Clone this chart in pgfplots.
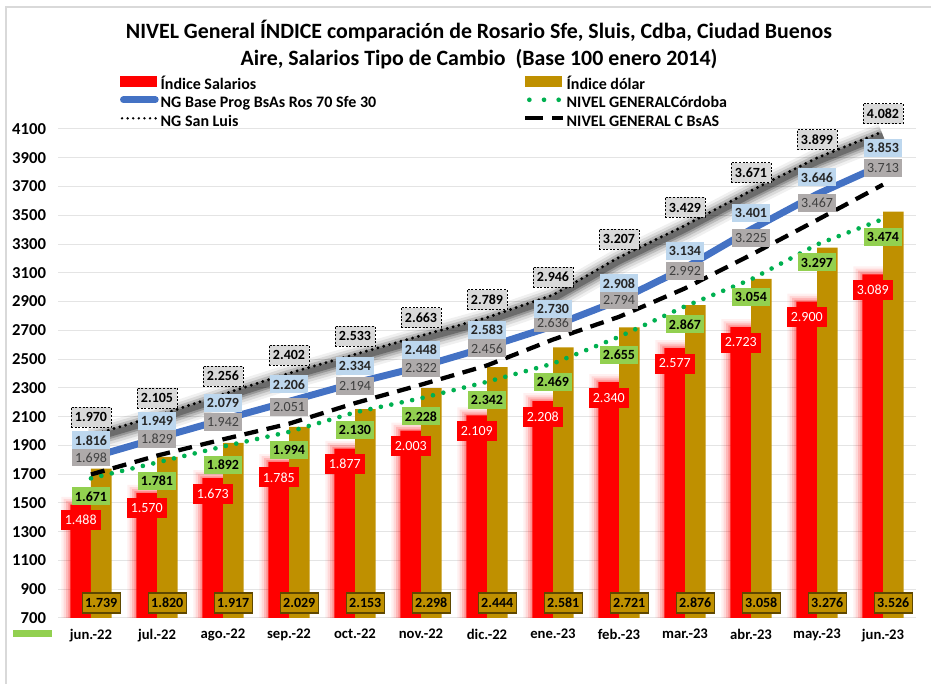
\documentclass[border=0pt]{standalone}
\usepackage{pgfplots}
\usepackage{pgfplotstable}
\pgfplotsset{compat=1.18}
\usepackage{fontspec}
\setmainfont{Carlito}
\definecolor{cred}{HTML}{FF0000}
\definecolor{cgold}{HTML}{BF9000}
\definecolor{cgolddk}{HTML}{5F4800}
\definecolor{cblue}{HTML}{4472C4}
\definecolor{cblueL}{HTML}{BDD7EE}
\definecolor{cgreen}{HTML}{00B050}
\definecolor{cgreenL}{HTML}{92D050}
\definecolor{cgrayL}{HTML}{D9D9D9}
\definecolor{cgrid}{HTML}{E4E4E4}
\definecolor{cgrayM}{HTML}{AEAAAA}
\definecolor{ctext}{HTML}{404040}

\pgfplotstableread{
x sal dol ng cor sl cb
0 1488 1739 1816 1671 1970 1698
1 1570 1820 1949 1781 2105 1829
2 1673 1917 2079 1892 2256 1942
3 1785 2029 2206 1994 2402 2051
4 1877 2153 2334 2130 2533 2194
5 2003 2298 2448 2228 2663 2322
6 2109 2444 2583 2342 2789 2456
7 2208 2581 2730 2469 2946 2636
8 2340 2721 2908 2655 3207 2794
9 2577 2876 3134 2867 3429 2992
10 2723 3058 3401 3054 3671 3225
11 2900 3276 3646 3297 3899 3467
12 3089 3526 3853 3474 4082 3713
}\data

\pgfplotsset{
  base/.style={
    scale only axis, width=643.5pt, height=366.75pt,
    xmin=-0.5, xmax=12.5, ymin=700, ymax=4100,
    at={(0pt,0pt)}, anchor=south west,
  },
}
\tikzset{
  lbl/.style={font=\fontsize{10.5}{11}\selectfont, inner sep=0pt, minimum width=28.5pt, minimum height=13.5pt},
}

\begin{document}
\begin{tikzpicture}
\useasboundingbox (-43.5pt,-49.5pt) rectangle (654.75pt,463.5pt);
\draw[cgrayL, line width=1pt] (-39pt,-60pt) -- (-39pt,458.25pt) -- (670pt,458.25pt);
\fill[cgreenL] (-33.75pt,-14.25pt) rectangle (-4.5pt,-9pt);

\begin{axis}[base,
  axis line style={draw=none},
  major tick length=0pt,
  ytick={700,900,...,4100},
  ymajorgrids, grid style={cgrid, line width=0.75pt},
  xtick={0,...,12},
  xticklabels={jun.-22,jul.-22,ago.-22,sep.-22,oct.-22,nov.-22,dic.-22,ene.-23,feb.-23,mar.-23,abr.-23,may.-23,jun.-23},
  yticklabel style={font=\bfseries\fontsize{12.5}{13}\selectfont, xshift=-5.5pt},
  xticklabel style={font=\bfseries\fontsize{11}{12}\selectfont, yshift=-5pt},
  /pgf/number format/1000 sep={},
  /pgf/number format/assume math mode=true,
]
% soft glow behind the red bars
\addplot[ybar, bar width=29pt, bar shift=-7.7pt, fill=cred, draw=none, opacity=0.06] table[x=x, y expr=\thisrow{sal}+55] {\data};
\addplot[ybar, bar width=25.5pt, bar shift=-7.7pt, fill=cred, draw=none, opacity=0.10] table[x=x, y expr=\thisrow{sal}+40] {\data};
\addplot[ybar, bar width=22pt, bar shift=-7.7pt, fill=cred, draw=none, opacity=0.15] table[x=x, y expr=\thisrow{sal}+26] {\data};
\addplot[ybar, bar width=18.5pt, bar shift=-7.7pt, fill=cred, draw=none, opacity=0.22] table[x=x, y expr=\thisrow{sal}+12] {\data};
\addplot[ybar, bar width=15.4pt, bar shift=-7.7pt, fill=cred, draw=none] table[x=x, y=sal] {\data};
\addplot[ybar, bar width=15.4pt, bar shift=7.7pt, fill=cgold, draw=none] table[x=x, y=dol] {\data};
\end{axis}

\begin{axis}[base, hide axis, clip=false,
  /pgf/number format/1000 sep={.},
  /pgf/number format/assume math mode=true,
  legend columns=2,
  legend cell align=left,
  legend style={at={(0.0723,1.1084)}, anchor=north west, draw=none, fill=none,
    inner sep=0pt, outer sep=0pt, column sep=0pt, row sep=0pt,
    font=\bfseries\fontsize{12}{14}\selectfont,
    nodes={inner xsep=1.5pt, inner ysep=0pt, text height=9.5pt, text depth=4.4pt}},
]
% lines
\addplot[cblue, line width=5.2pt, line cap=round, line join=round, forget plot] table[x=x,y=ng]{\data};
\addplot[cgreen, line width=3.5pt, line cap=round, dash pattern=on 0pt off 8pt, forget plot] table[x=x,y=cor]{\data};
\begin{scope}[yshift=-1.5pt]
\addplot[black, opacity=0.06, line width=19pt, line join=round, forget plot] table[x=x,y=sl]{\data};
\addplot[black, opacity=0.09, line width=15pt, line join=round, forget plot] table[x=x,y=sl]{\data};
\addplot[black, opacity=0.14, line width=11pt, line join=round, forget plot] table[x=x,y=sl]{\data};
\addplot[black, opacity=0.20, line width=7.5pt, line join=round, forget plot] table[x=x,y=sl]{\data};
\addplot[black, opacity=0.28, line width=4.5pt, line join=round, forget plot] table[x=x,y=sl]{\data};
\end{scope}
\addplot[black, line width=2.4pt, line cap=round, dash pattern=on 0pt off 4.5pt, forget plot] table[x=x,y=sl]{\data};
\addplot[black, line width=3.2pt, dash pattern=on 10.5pt off 6.5pt, forget plot] table[x=x,y=cb]{\data};

% labels
\addplot[draw=none, forget plot, nodes near coords, nodes near coords align=center,
  every node near coord/.append style={lbl, minimum width=30pt, minimum height=15pt, fill=cred, text=white, xshift=-7.7pt, yshift=-11.6pt}]
  table[x=x,y=sal]{\data};
\addplot[draw=none, forget plot, point meta=explicit, nodes near coords, nodes near coords align=center,
  every node near coord/.append style={lbl, minimum height=15pt, font=\bfseries\fontsize{10.5}{11}\selectfont, fill=cgold, draw=cgolddk, line width=0.9pt, text=black, xshift=7.7pt}]
  table[x=x, y expr=804, meta=dol]{\data};
\addplot[draw=none, forget plot, nodes near coords, nodes near coords align=center,
  every node near coord/.append style={lbl, font=\bfseries\fontsize{10.5}{11}\selectfont, fill=cgreenL, text=black, yshift=-13.5pt}]
  table[x=x,y=cor]{\data};
\addplot[draw=none, forget plot, nodes near coords, nodes near coords align=center,
  every node near coord/.append style={lbl, fill=cgrayM, text=ctext, yshift=12.75pt}]
  table[x=x,y=cb]{\data};
\addplot[draw=none, forget plot, nodes near coords, nodes near coords align=center,
  every node near coord/.append style={lbl, font=\bfseries\fontsize{10.5}{11}\selectfont, fill=cblueL, text=black!85, yshift=12.75pt}]
  table[x=x,y=ng]{\data};
\addplot[draw=none, forget plot, nodes near coords, nodes near coords align=center,
  every node near coord/.append style={lbl, minimum width=30pt, minimum height=15pt, font=\bfseries\fontsize{10.5}{11}\selectfont, fill=cgrayL, draw=black, line width=0.6pt, dash pattern=on 1.5pt off 1.2pt, text=black, yshift=13.5pt}]
  table[x=x,y=sl]{\data};

% legend
\addlegendimage{legend image code/.code={\fill[cred] (0pt,-0.25pt) rectangle (27pt,7.25pt);}}
\addlegendentry{\makebox[270.5pt][l]{Índice Salarios}}
\addlegendimage{legend image code/.code={\fill[cgold] (0pt,-0.25pt) rectangle (27pt,7.25pt);}}
\addlegendentry{Índice dólar}
\addlegendimage{legend image code/.code={\draw[cblue, line width=5pt, line cap=round] (2pt,3.5pt) -- (26pt,3.5pt);}}
\addlegendentry{\makebox[270.5pt][l]{NG Base Prog BsAs Ros 70 Sfe 30}}
\addlegendimage{legend image code/.code={\draw[cgreen, line width=3.5pt, line cap=round, dash pattern=on 0pt off 11pt] (3pt,3.5pt) -- (26pt,3.5pt);}}
\addlegendentry{NIVEL GENERALCórdoba}
\addlegendimage{legend image code/.code={\draw[black, line width=2pt, line cap=round, dash pattern=on 0pt off 4.2pt] (1pt,3.5pt) -- (27pt,3.5pt);}}
\addlegendentry{\makebox[270.5pt][l]{NG San Luis}}
\addlegendimage{legend image code/.code={\draw[black, line width=3pt, dash pattern=on 13pt off 7pt] (0pt,3.5pt) -- (28pt,3.5pt);}}
\addlegendentry{NIVEL GENERAL C BsAS}
\end{axis}

\node[font=\bfseries\fontsize{16.4}{20.25}\selectfont, align=center] at (315.75pt,430.1pt)
  {NIVEL General ÍNDICE comparación de Rosario Sfe, Sluis, Cdba, Ciudad Buenos\\Aire, Salarios Tipo de Cambio\ \ (Base 100 enero 2014)};
\end{tikzpicture}
\end{document}
